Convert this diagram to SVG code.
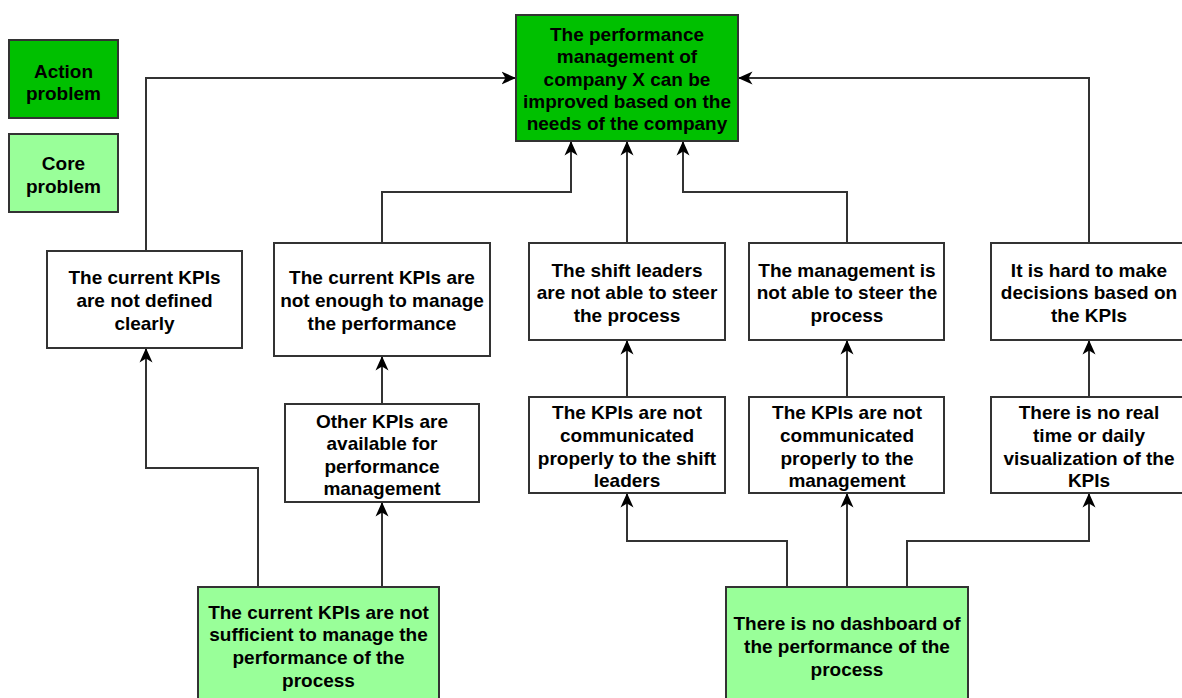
<svg xmlns="http://www.w3.org/2000/svg" width="1182" height="698" viewBox="0 0 1182 698">
  <style>
    .box { stroke: #333333; stroke-width: 2; }
    .plain { fill: #ffffff; }
    .action { fill: #00c000; }
    .core { fill: #99ff99; }
    text { font-family: "Liberation Sans", Arial, sans-serif; font-weight: bold; font-size: 19px; fill: #000000; text-anchor: middle; }
    .edge { fill: none; stroke: #333333; stroke-width: 2; }
  </style>
  <defs>
    <marker id="arrow" markerUnits="userSpaceOnUse" markerWidth="15" markerHeight="14" viewBox="0 0 15 14" refX="14.5" refY="7" orient="auto">
      <path d="M0,0.5 L14.5,7 L0,13.5 L4,7 Z" fill="#000000"/>
    </marker>
  </defs>
  <rect width="1182" height="698" fill="#ffffff"/>

  <!-- legend -->
  <g id="legend-action">
    <rect class="box action" x="9" y="40" width="109" height="78"/>
    <text x="63.5" y="78">Action</text>
    <text x="63.5" y="100">problem</text>
  </g>
  <g id="legend-core">
    <rect class="box core" x="9" y="134" width="109" height="78"/>
    <text x="63.5" y="170">Core</text>
    <text x="63.5" y="193">problem</text>
  </g>

  <!-- connectors -->
  <g id="connectors">
    <path class="edge" d="M146,251 V78 H516" marker-end="url(#arrow)"/>
    <path class="edge" d="M382,243 V192 H571 V141" marker-end="url(#arrow)"/>
    <path class="edge" d="M627,243 V141" marker-end="url(#arrow)"/>
    <path class="edge" d="M847,243 V192 H683 V141" marker-end="url(#arrow)"/>
    <path class="edge" d="M1089,243 V78 H738" marker-end="url(#arrow)"/>
    <path class="edge" d="M258,587 V468 H146 V348" marker-end="url(#arrow)"/>
    <path class="edge" d="M382,587 V502" marker-end="url(#arrow)"/>
    <path class="edge" d="M382,404 V356" marker-end="url(#arrow)"/>
    <path class="edge" d="M787,587 V541 H627 V493" marker-end="url(#arrow)"/>
    <path class="edge" d="M847,587 V493" marker-end="url(#arrow)"/>
    <path class="edge" d="M907,587 V541 H1089 V493" marker-end="url(#arrow)"/>
    <path class="edge" d="M627,397 V340" marker-end="url(#arrow)"/>
    <path class="edge" d="M847,397 V340" marker-end="url(#arrow)"/>
    <path class="edge" d="M1089,397 V340" marker-end="url(#arrow)"/>
  </g>

  <!-- action problem -->
  <g id="node-goal">
    <rect class="box action" x="516" y="15" width="222" height="126"/>
    <text x="627" y="41">The performance</text>
    <text x="627" y="63">management of</text>
    <text x="627" y="86">company X can be</text>
    <text x="627" y="108">improved based on the</text>
    <text x="627" y="130">needs of the company</text>
  </g>

  <!-- intermediate problems -->
  <g id="node-not-defined">
    <rect class="box plain" x="47" y="251" width="195" height="97"/>
    <text x="144.5" y="284">The current KPIs</text>
    <text x="144.5" y="307">are not defined</text>
    <text x="144.5" y="330">clearly</text>
  </g>
  <g id="node-not-enough">
    <rect class="box plain" x="274" y="243" width="216" height="113"/>
    <text x="382" y="284">The current KPIs are</text>
    <text x="382" y="307">not enough to manage</text>
    <text x="382" y="330">the performance</text>
  </g>
  <g id="node-other-kpis">
    <rect class="box plain" x="285" y="404" width="194" height="98"/>
    <text x="382" y="428">Other KPIs are</text>
    <text x="382" y="450">available for</text>
    <text x="382" y="473">performance</text>
    <text x="382" y="495">management</text>
  </g>
  <g id="node-shift-steer">
    <rect class="box plain" x="529" y="243" width="196" height="97"/>
    <text x="627" y="277">The shift leaders</text>
    <text x="627" y="299">are not able to steer</text>
    <text x="627" y="322">the process</text>
  </g>
  <g id="node-mgmt-steer">
    <rect class="box plain" x="749" y="243" width="195" height="97"/>
    <text x="847" y="277">The management is</text>
    <text x="847" y="299">not able to steer the</text>
    <text x="847" y="322">process</text>
  </g>
  <g id="node-hard-decisions">
    <rect class="box plain" x="991" y="243" width="196" height="97"/>
    <text x="1089" y="277">It is hard to make</text>
    <text x="1089" y="299">decisions based on</text>
    <text x="1089" y="322">the KPIs</text>
  </g>
  <g id="node-shift-comm">
    <rect class="box plain" x="529" y="397" width="196" height="96"/>
    <text x="627" y="419">The KPIs are not</text>
    <text x="627" y="442">communicated</text>
    <text x="627" y="465">properly to the shift</text>
    <text x="627" y="487">leaders</text>
  </g>
  <g id="node-mgmt-comm">
    <rect class="box plain" x="749" y="397" width="195" height="96"/>
    <text x="847" y="419">The KPIs are not</text>
    <text x="847" y="442">communicated</text>
    <text x="847" y="465">properly to the</text>
    <text x="847" y="487">management</text>
  </g>
  <g id="node-no-visual">
    <rect class="box plain" x="991" y="397" width="196" height="96"/>
    <text x="1089" y="419">There is no real</text>
    <text x="1089" y="442">time or daily</text>
    <text x="1089" y="465">visualization of the</text>
    <text x="1089" y="487">KPIs</text>
  </g>

  <!-- core problems -->
  <g id="node-core-kpis">
    <rect class="box core" x="198" y="587" width="241" height="118"/>
    <text x="318.5" y="619">The current KPIs are not</text>
    <text x="318.5" y="641">sufficient to manage the</text>
    <text x="318.5" y="664">performance of the</text>
    <text x="318.5" y="687">process</text>
  </g>
  <g id="node-core-dashboard">
    <rect class="box core" x="726" y="587" width="242" height="118"/>
    <text x="847" y="630">There is no dashboard of</text>
    <text x="847" y="653">the performance of the</text>
    <text x="847" y="676">process</text>
  </g>
</svg>
